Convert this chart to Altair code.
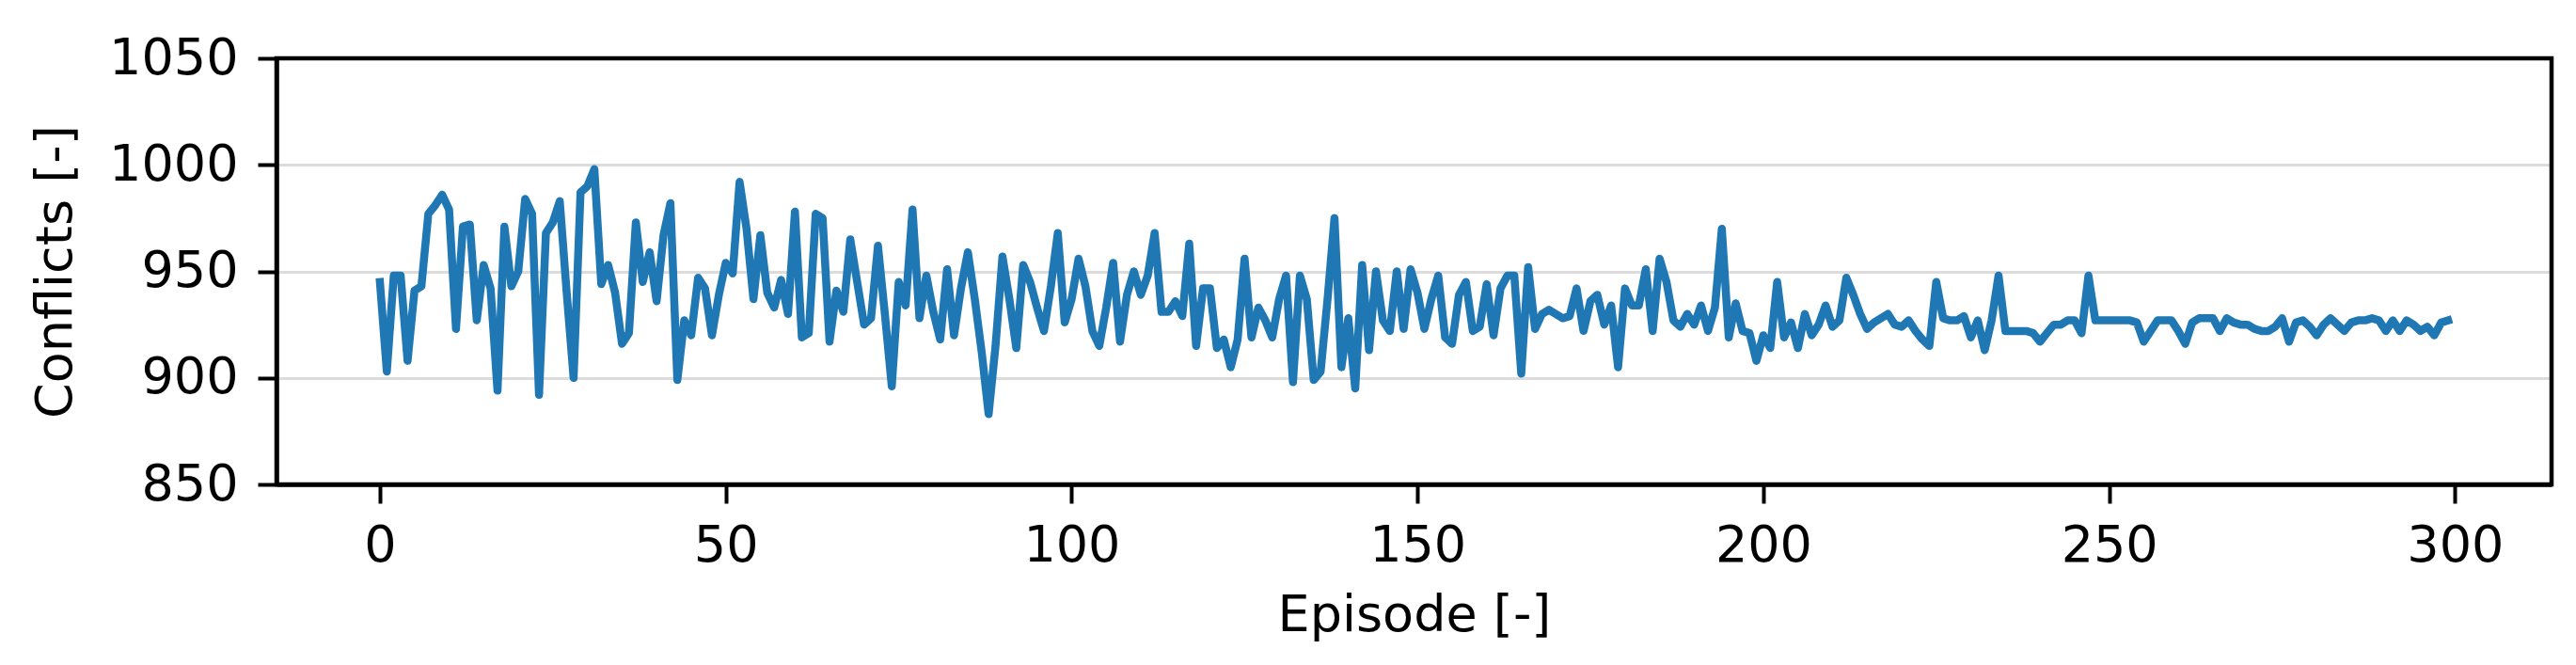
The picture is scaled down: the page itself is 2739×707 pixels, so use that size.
import altair as alt
import pandas as pd

episodes = list(range(300))
conflicts = [
    945, 903, 948, 948, 908, 941, 943, 977, 981, 986,
    979, 923, 971, 972, 927, 953, 942, 894, 971, 943,
    950, 984, 977, 892, 968, 973, 983, 940, 900, 987,
    990, 998, 944, 953, 940, 916, 921, 973, 945, 959,
    936, 967, 982, 899, 927, 920, 947, 942, 920, 939,
    954, 949, 992, 970, 937, 967, 940, 933, 946, 930,
    978, 919, 921, 977, 975, 917, 941, 931, 965, 945,
    925, 928, 962, 930, 896, 945, 934, 979, 928, 948,
    931, 918, 951, 920, 942, 959, 937, 912, 883, 915,
    957, 937, 914, 953, 945, 933, 922, 943, 968, 926,
    937, 956, 943, 922, 915, 933, 954, 917, 939, 950,
    939, 948, 968, 931, 931, 936, 929, 963, 915, 942,
    942, 914, 918, 905, 918, 956, 919, 933, 927, 919,
    937, 948, 898, 948, 937, 899, 903, 937, 975, 905,
    928, 895, 953, 913, 950, 927, 922, 950, 923, 951,
    940, 923, 937, 948, 919, 916, 939, 945, 922, 924,
    944, 920, 942, 948, 948, 902, 952, 923, 930, 932,
    930, 928, 929, 942, 922, 936, 939, 925, 934, 905,
    942, 934, 934, 951, 922, 956, 945, 927, 924, 930,
    925, 934, 922, 933, 970, 919, 935, 922, 921, 908,
    920, 914, 945, 919, 926, 914, 930, 920, 925, 934,
    924, 927, 947, 939, 930, 923, 926, 928, 930, 925,
    924, 927, 922, 918, 915, 945, 928, 927, 927, 929,
    919, 927, 913, 927, 948, 922, 922, 922, 922, 921,
    917, 921, 925, 925, 927, 927, 921, 948, 927, 927,
    927, 927, 927, 927, 926, 917, 922, 927, 927, 927,
    922, 916, 926, 928, 928, 928, 922, 928, 926, 925,
    925, 923, 922, 922, 924, 928, 917, 926, 927, 924,
    920, 925, 928, 925, 922, 926, 927, 927, 928, 927,
    922, 927, 922, 927, 925, 922, 924, 920, 926, 927,
]
x_ticks = [0, 50, 100, 150, 200, 250, 300]
y_ticks = [850, 900, 950, 1000, 1050]

df = pd.DataFrame({"episode": episodes, "conflicts": conflicts})
frame_df = pd.DataFrame({"frame": [0]})

W, H = 2419, 453
FONT = "DejaVu Sans"
FS = 54

line = (
    alt.Chart(df)
    .mark_line(color="#1f77b4", strokeWidth=8.5, strokeJoin="round", strokeCap="square")
    .encode(
        x=alt.X(
            "episode:Q",
            scale=alt.Scale(domain=[-14.95, 313.95], nice=False, zero=False),
            axis=alt.Axis(
                values=x_ticks,
                format="d",
                title="Episode [-]",
                grid=False,
                labelFlush=False,
                labelOverlap=False,
                tickSize=20,
                tickWidth=4,
                tickColor="black",
                domainColor="black",
                domainWidth=4.5,
                labelPadding=18,
                labelFont=FONT,
                labelFontSize=FS,
                labelColor="black",
                titleFont=FONT,
                titleFontSize=FS,
                titleFontWeight="normal",
                titleColor="black",
                titleBaseline="alphabetic",
                titleX=W / 2,
                titleY=155,
                titleAlign="center",
            ),
        ),
        y=alt.Y(
            "conflicts:Q",
            scale=alt.Scale(domain=[850, 1050], nice=False, zero=False),
            axis=alt.Axis(
                values=y_ticks,
                format="d",
                title="Conflicts [-]",
                grid=True,
                gridColor="#dcdcdc",
                gridWidth=3,
                labelFlush=False,
                labelOverlap=False,
                tickSize=20,
                tickWidth=4,
                tickColor="black",
                domainColor="black",
                domainWidth=4.5,
                labelPadding=21,
                labelFont=FONT,
                labelFontSize=FS,
                labelColor="black",
                titleFont=FONT,
                titleFontSize=FS,
                titleFontWeight="normal",
                titleColor="black",
                titleAngle=270,
                titleBaseline="alphabetic",
                titleAlign="center",
                titleX=-219,
                titleY=H / 2,
            ),
        ),
    )
)

frame = (
    alt.Chart(frame_df)
    .mark_rect(fill=None, fillOpacity=0, stroke="black", strokeWidth=4.5)
    .encode(x=alt.value(0), x2=alt.value(W), y=alt.value(0), y2=alt.value(H))
)

chart = (
    alt.layer(line, frame)
    .properties(
        width=W,
        height=H,
        autosize="none",
        padding={"left": 286, "top": 54, "right": 10, "bottom": 170},
    )
    .configure_view(stroke=None)
    .configure(background="white")
)

chart.save("out.html", embed_options={"renderer": "svg", "actions": False})
